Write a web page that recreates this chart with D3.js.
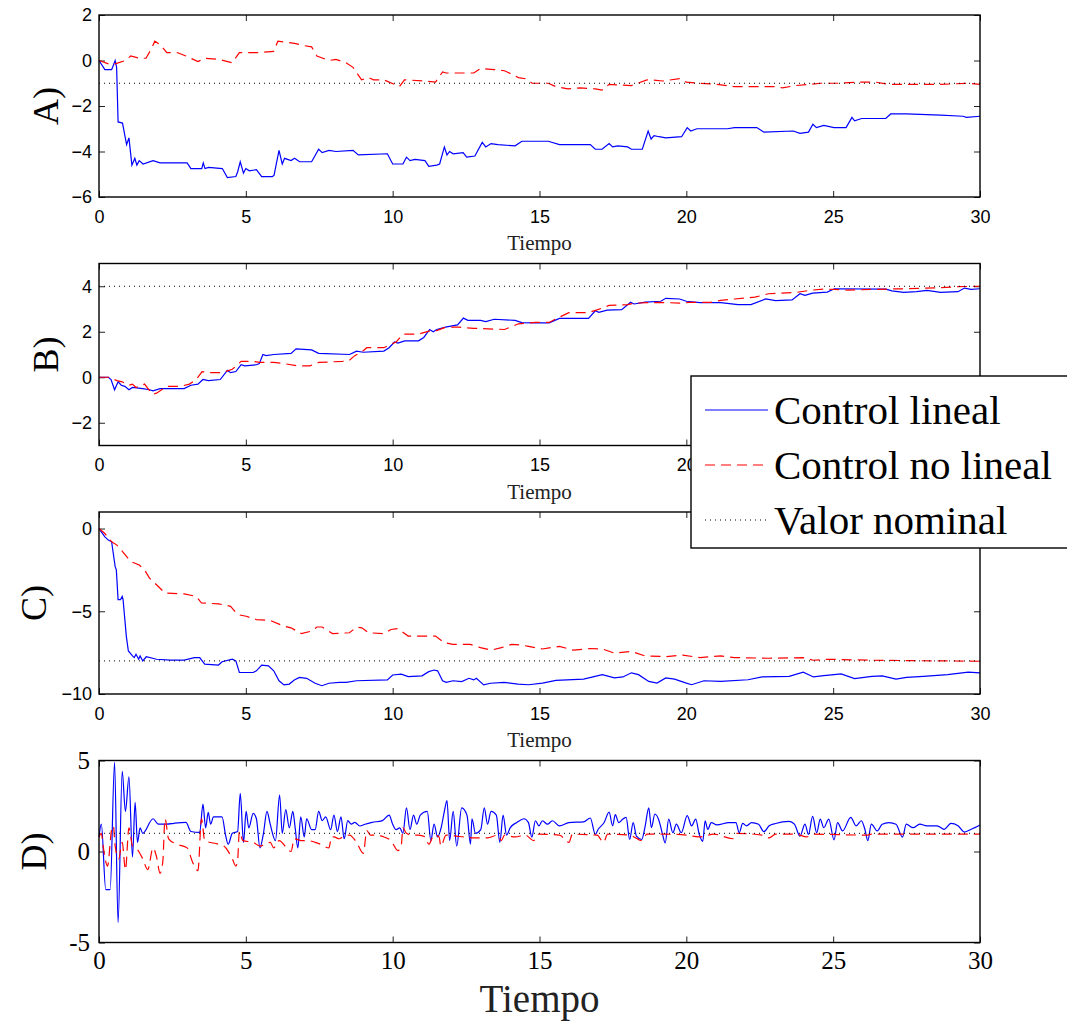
<!DOCTYPE html>
<html>
<head>
<meta charset="utf-8">
<script src="https://cdn.jsdelivr.net/npm/d3@7"></script>
<style>
  body { margin: 0; background: #fff; }
  svg { display: block; }
  .sans text { font-family: "Liberation Sans", Arial, sans-serif; font-size: 18px; fill: #000; }
  .serif text { font-family: "Liberation Serif", "Times New Roman", serif; font-size: 25px; fill: #000; }
</style>
</head>
<body>
<div class="chart"></div>
<script>
const WIDTH = 1067, HEIGHT = 1022;
const LEFT = 99, RIGHT = 980, PANEL_H = 182;

const xTicks = [0, 5, 10, 15, 20, 25, 30];
const legendLabels = ['Control lineal', 'Control no lineal', 'Valor nominal'];
const panelNames = ['A)', 'B)', 'C)', 'D)'];
const panelDomains = [[-6, 2], [-3, 5], [-10, 1], [-5, 5]];
const panelTicks = [[-6, -4, -2, 0, 2], [-2, 0, 2, 4], [-10, -5, 0], [-5, 0, 5]];
const nominal = [-1, 4, -8, 1];

// [t, value]
const aLineal = [[0,0],[0.2,-0.4],[0.43,-0.4],[0.55,0],[0.6,-0.3],[0.65,-2.7],[0.8,-2.75],[0.94,-3.7],[1.02,-3.4],[1.12,-4.6],[1.22,-4.3],[1.29,-4.6],[1.37,-4.4],[1.5,-4.55],[1.84,-4.4],[2.08,-4.5],[3.0,-4.5],[3.13,-4.75],[3.5,-4.75],[3.55,-4.5],[3.61,-4.75],[3.73,-4.7],[4.2,-4.75],[4.37,-5.15],[4.66,-5.1],[4.72,-4.9],[4.81,-4.45],[4.92,-4.95],[5.0,-4.75],[5.12,-4.85],[5.36,-4.8],[5.54,-5.1],[5.9,-5.1],[5.96,-5.05],[6.13,-3.95],[6.24,-4.55],[6.32,-4.3],[6.54,-4.4],[6.66,-4.3],[6.83,-4.45],[7.24,-4.45],[7.48,-3.9],[7.6,-4.05],[7.83,-3.95],[8.07,-4.0],[8.65,-3.95],[8.83,-4.15],[9.82,-4.1],[10.0,-4.55],[10.35,-4.55],[10.47,-4.25],[10.59,-4.4],[10.76,-4.35],[11.1,-4.4],[11.23,-4.65],[11.5,-4.6],[11.6,-4.55],[11.76,-3.8],[11.85,-4.15],[11.94,-4.0],[12.06,-4.1],[12.4,-4.05],[12.52,-4.25],[12.8,-4.2],[13.05,-3.6],[13.17,-3.8],[13.35,-3.65],[13.58,-3.7],[14.17,-3.75],[14.4,-3.55],[15.3,-3.55],[15.68,-3.7],[16.73,-3.7],[16.9,-3.9],[17.13,-3.9],[17.37,-3.65],[17.49,-3.8],[17.67,-3.75],[18.0,-3.8],[18.13,-3.9],[18.5,-3.9],[18.7,-3.1],[18.8,-3.45],[18.9,-3.3],[19.07,-3.35],[19.3,-3.4],[19.84,-3.35],[20.03,-2.95],[20.15,-3.1],[20.36,-3.0],[21.4,-3.0],[21.64,-2.95],[22.4,-2.95],[22.64,-3.15],[23.64,-3.1],[23.87,-3.2],[24.16,-3.15],[24.31,-2.8],[24.43,-2.95],[24.68,-2.85],[25.03,-2.95],[25.44,-2.95],[25.64,-2.5],[25.73,-2.65],[25.97,-2.55],[26.79,-2.55],[26.96,-2.35],[27.49,-2.35],[28.66,-2.4],[29.42,-2.45],[29.54,-2.5],[30,-2.45]];
const aNoLineal = [[0,0],[0.32,-0.15],[0.55,-0.15],[0.9,0],[1.08,0.2],[1.37,0.1],[1.6,0.1],[1.78,0.5],[1.9,0.85],[2.08,0.7],[2.31,0.35],[2.66,0.35],[2.96,0.2],[3.37,-0.05],[3.6,0.1],[4.07,0.05],[4.54,-0.1],[4.78,0.35],[5.48,0.35],[5.95,0.4],[6.09,0.85],[6.42,0.8],[6.66,0.75],[7.0,0.65],[7.24,0.6],[7.42,0.2],[7.83,0.0],[8.07,0.05],[8.41,-0.1],[8.65,-0.3],[8.94,-0.85],[9.18,-0.75],[9.35,-0.85],[9.7,-0.85],[10.06,-1.05],[10.23,-1.15],[10.4,-0.85],[11.1,-0.9],[11.46,-0.95],[11.7,-0.5],[11.82,-0.55],[12.76,-0.55],[12.99,-0.35],[13.46,-0.4],[13.81,-0.45],[14.28,-0.75],[14.52,-0.8],[14.75,-1.0],[15.3,-1.0],[15.56,-1.15],[15.97,-1.25],[16.38,-1.2],[16.9,-1.25],[17.13,-1.3],[17.37,-1.05],[18.13,-1.1],[18.66,-0.85],[18.83,-0.85],[19.19,-0.9],[19.77,-0.8],[20.0,-0.95],[20.47,-1.0],[21.05,-1.05],[21.64,-1.15],[23.04,-1.15],[23.27,-1.2],[23.75,-1.1],[24.57,-1.0],[25.15,-1.0],[25.85,-0.95],[26.44,-0.95],[26.9,-1.05],[28.66,-1.05],[29.6,-1.0],[30,-1.05]];

const bLineal = [[0,0],[0.32,0],[0.41,-0.1],[0.53,-0.55],[0.65,-0.2],[0.76,-0.35],[0.88,-0.4],[1.02,-0.55],[1.14,-0.45],[1.49,-0.5],[1.72,-0.55],[1.84,-0.6],[2.08,-0.5],[2.9,-0.5],[3.13,-0.35],[3.37,-0.3],[3.54,-0.1],[3.72,-0.15],[4.13,-0.1],[4.37,0.3],[4.48,0.2],[4.66,0.25],[4.84,0.55],[4.96,0.5],[5.36,0.55],[5.46,0.6],[5.58,1.0],[5.69,0.95],[5.95,1.0],[6.54,1.05],[6.71,1.25],[7.24,1.2],[7.48,1.05],[8.53,1.0],[8.77,1.15],[9.0,1.1],[9.7,1.15],[9.88,1.3],[10.06,1.55],[10.18,1.5],[10.41,1.6],[10.88,1.6],[11.06,1.75],[11.26,2.1],[11.38,2.0],[11.5,2.1],[11.8,2.2],[12.21,2.3],[12.41,2.6],[12.56,2.5],[12.99,2.5],[13.17,2.45],[13.46,2.55],[14.17,2.5],[14.4,2.4],[14.86,2.39],[15.33,2.39],[15.68,2.59],[16.67,2.59],[16.9,2.92],[17.02,2.85],[17.3,2.95],[17.8,2.97],[18.1,3.3],[18.22,3.22],[18.6,3.3],[19.13,3.34],[19.3,3.47],[19.77,3.44],[20.0,3.34],[20.47,3.28],[21.17,3.28],[21.76,3.19],[22.2,3.19],[22.7,3.44],[23.04,3.37],[23.6,3.4],[23.87,3.67],[24.04,3.6],[24.3,3.7],[24.8,3.74],[25.04,3.89],[26.79,3.87],[27.0,3.8],[27.4,3.73],[27.84,3.76],[28.2,3.82],[28.66,3.73],[29.25,3.76],[29.47,3.92],[29.7,3.86],[30,3.89]];
const bNoLineal = [[0,0],[0.32,0],[0.43,-0.05],[0.61,-0.15],[0.79,-0.2],[1.02,-0.35],[1.14,-0.3],[1.26,-0.45],[1.55,-0.3],[1.82,-0.75],[1.96,-0.7],[2.31,-0.4],[2.78,-0.4],[3.08,-0.3],[3.31,-0.1],[3.51,0.25],[3.72,0.2],[4.19,0.2],[4.54,0.35],[4.84,0.7],[5.25,0.7],[5.48,0.65],[5.95,0.65],[6.3,0.6],[6.77,0.5],[7.18,0.5],[7.48,0.65],[8.3,0.7],[8.53,0.75],[8.71,0.95],[8.94,1.1],[9.12,1.3],[9.7,1.3],[9.94,1.45],[10.12,1.55],[10.35,1.9],[10.88,1.9],[11.3,2.05],[11.5,2.05],[11.8,2.2],[12.29,2.2],[12.76,2.15],[13.81,2.1],[14.28,2.35],[14.86,2.41],[15.33,2.41],[15.6,2.59],[16.0,2.84],[16.67,2.84],[16.96,2.96],[17.37,3.16],[18.0,3.19],[18.25,3.26],[19.07,3.29],[19.77,3.26],[20.1,3.29],[20.82,3.29],[21.17,3.38],[21.64,3.44],[22.33,3.52],[22.8,3.67],[23.75,3.73],[24.2,3.82],[24.68,3.88],[25.5,3.83],[26.9,3.88],[27.49,3.89],[28.66,3.94],[29.25,3.98],[30,4.0]];

const cLineal = [[0,0],[0.2,-0.5],[0.32,-0.7],[0.43,-0.8],[0.55,-2.3],[0.59,-2.5],[0.65,-4.3],[0.73,-4.3],[0.79,-4.1],[0.82,-4.3],[0.93,-6.5],[1.0,-7.4],[1.14,-7.7],[1.2,-7.8],[1.26,-7.6],[1.35,-7.9],[1.4,-7.7],[1.49,-8.0],[1.61,-7.75],[1.96,-7.9],[2.43,-7.95],[2.9,-7.95],[3.25,-7.8],[3.43,-7.8],[3.6,-8.2],[4.07,-8.25],[4.19,-8.05],[4.54,-7.9],[4.66,-8.0],[4.78,-8.7],[5.25,-8.7],[5.36,-8.6],[5.54,-8.25],[5.77,-8.3],[5.95,-8.6],[6.13,-9.2],[6.3,-9.45],[6.48,-9.4],[6.65,-9.15],[6.83,-9.0],[7.07,-9.05],[7.36,-9.35],[7.59,-9.5],[7.83,-9.35],[8.18,-9.3],[8.41,-9.3],[8.77,-9.2],[9.82,-9.15],[10.0,-8.85],[10.29,-8.8],[10.53,-8.95],[11.0,-8.9],[11.23,-8.65],[11.41,-8.55],[11.53,-8.6],[11.7,-9.2],[11.82,-9.3],[12.06,-9.2],[12.35,-9.25],[12.6,-9.05],[12.76,-9.15],[12.85,-9.05],[13.1,-9.45],[13.33,-9.35],[13.8,-9.3],[14.27,-9.4],[14.63,-9.44],[15.1,-9.34],[15.56,-9.18],[16.5,-9.1],[17.14,-8.83],[17.55,-9.03],[17.84,-8.97],[18.13,-8.72],[18.37,-8.83],[18.72,-9.24],[19.0,-9.34],[19.3,-9.03],[19.6,-9.1],[20.0,-9.34],[20.18,-9.44],[20.6,-9.2],[21.17,-9.24],[22.1,-9.14],[22.58,-8.97],[23.5,-8.93],[23.98,-8.68],[24.33,-8.97],[24.68,-8.89],[25.03,-8.83],[25.27,-8.79],[25.73,-9.07],[26.32,-8.93],[26.67,-8.91],[27.14,-9.1],[27.5,-8.99],[28.07,-8.93],[28.9,-8.83],[29.6,-8.68],[30,-8.72]];
const cNoLineal = [[0,0],[0.2,-0.3],[0.43,-0.8],[0.61,-1.0],[0.9,-1.6],[1.08,-2.0],[1.37,-2.2],[1.55,-2.5],[1.72,-3.0],[2.02,-3.5],[2.25,-3.9],[2.9,-3.95],[3.31,-4.1],[3.49,-4.5],[4.07,-4.55],[4.48,-4.7],[4.72,-5.2],[5.01,-5.3],[5.36,-5.5],[5.83,-5.55],[6.3,-5.9],[6.54,-6.0],[6.89,-6.35],[7.24,-6.2],[7.42,-5.95],[7.6,-5.95],[7.95,-6.35],[8.53,-6.3],[8.77,-5.95],[8.95,-6.0],[9.18,-6.3],[9.7,-6.35],[9.94,-6.1],[10.18,-6.05],[10.53,-6.5],[11.11,-6.5],[11.46,-6.5],[11.76,-6.9],[12.05,-7.0],[12.64,-7.0],[12.99,-7.2],[13.35,-7.35],[13.7,-7.2],[14.05,-7.0],[14.4,-7.05],[14.63,-7.12],[15.1,-7.28],[15.68,-7.12],[16.15,-7.35],[16.73,-7.25],[17.14,-7.28],[17.55,-7.53],[18.13,-7.43],[18.6,-7.7],[19.3,-7.74],[19.88,-7.65],[20.47,-7.8],[21.17,-7.7],[21.64,-7.8],[22.8,-7.84],[23.98,-7.8],[24.33,-7.96],[24.8,-7.9],[26.32,-7.96],[28.66,-8.0],[30,-8.02]];

const dLineal = [[0,0.8],[0.08,1.5],[0.23,-2.1],[0.38,-2.1],[0.53,4.9],[0.65,-3.9],[0.79,4.4],[0.9,2.2],[1.02,4.1],[1.14,-0.3],[1.23,2.7],[1.31,0.5],[1.4,1.3],[1.49,1.0],[1.84,1.8],[2.02,1.5],[2.31,1.5],[2.55,1.55],[2.96,1.6],[3.13,1.1],[3.43,1.05],[3.54,2.6],[3.63,1.3],[3.72,2.15],[3.8,1.5],[3.9,1.9],[4.19,1.9],[4.31,0.9],[4.4,0.4],[4.54,1.0],[4.72,1.1],[4.81,3.2],[4.92,0.5],[5.01,2.2],[5.1,1.3],[5.25,2.1],[5.36,1.8],[5.48,0.2],[5.6,1.0],[5.72,2.2],[5.83,1.5],[6.01,0.6],[6.15,3.1],[6.24,1.0],[6.36,2.3],[6.48,1.3],[6.6,2.2],[6.68,1.3],[6.77,0.2],[6.87,1.9],[6.99,0.8],[7.07,1.8],[7.24,1.2],[7.36,1.2],[7.48,2.2],[7.6,1.7],[7.72,1.9],[7.89,1.2],[8.0,2.0],[8.12,1.1],[8.24,1.9],[8.35,0.7],[8.47,1.7],[8.59,1.5],[8.71,1.6],[8.88,1.4],[9.06,1.5],[9.3,1.6],[9.65,1.7],[9.88,2.0],[10.0,1.5],[10.12,1.2],[10.24,1.3],[10.35,1.0],[10.47,2.4],[10.59,1.2],[10.71,2.0],[10.82,1.5],[10.94,2.0],[11.18,2.2],[11.3,0.6],[11.41,1.5],[11.53,0.8],[11.65,1.3],[11.76,2.2],[11.85,2.8],[11.94,0.6],[12.06,2.2],[12.18,0.3],[12.35,2.4],[12.53,2.0],[12.65,0.4],[12.7,1.8],[12.82,1.0],[13.0,1.2],[13.12,2.4],[13.23,1.5],[13.35,2.2],[13.53,2.0],[13.65,0.5],[13.76,2.0],[13.88,0.9],[14.0,1.3],[14.23,1.6],[14.47,1.8],[14.62,1.6],[14.74,0.79],[14.86,1.69],[14.98,1.41],[15.1,1.69],[15.27,1.5],[15.44,1.69],[15.68,1.41],[16.0,1.59],[16.5,1.63],[16.73,1.84],[16.9,0.94],[17.0,1.22],[17.2,1.59],[17.37,2.16],[17.49,1.41],[17.58,2.03],[17.7,1.59],[17.84,1.78],[17.95,1.88],[18.07,0.66],[18.19,1.59],[18.3,0.84],[18.48,0.66],[18.6,1.41],[18.72,2.4],[18.81,1.31],[18.93,2.06],[19.07,1.69],[19.19,0.94],[19.28,0.47],[19.4,1.78],[19.54,1.03],[19.66,1.5],[19.83,1.03],[20.03,1.97],[20.18,1.41],[20.32,1.78],[20.44,0.94],[20.56,0.56],[20.64,1.69],[20.73,1.22],[20.85,1.59],[21.04,1.46],[21.45,1.59],[21.69,1.59],[21.8,1.03],[21.92,1.54],[22.05,1.41],[22.22,1.59],[22.46,1.5],[22.64,1.09],[22.82,1.41],[23.04,1.54],[23.5,1.65],[23.68,1.5],[23.87,0.84],[24.04,1.5],[24.16,0.94],[24.3,1.93],[24.44,1.03],[24.56,1.78],[24.68,1.31],[24.85,1.78],[25.03,0.64],[25.15,1.59],[25.32,1.13],[25.6,1.88],[25.78,1.41],[25.96,1.69],[26.08,1.22],[26.18,0.6],[26.3,1.5],[26.5,1.13],[26.67,1.5],[26.9,1.59],[27.14,1.5],[27.36,0.79],[27.49,1.5],[27.72,1.31],[27.95,1.5],[28.19,1.41],[28.54,1.41],[28.78,1.22],[29.01,1.54],[29.25,1.41],[29.47,1.07],[29.7,1.22],[30,1.46]];
const dNoLineal = [[0,0.8],[0.08,1.0],[0.14,0.3],[0.29,-0.8],[0.43,1.2],[0.49,1.4],[0.55,0.3],[0.67,-0.4],[0.79,0.5],[0.9,-1.0],[1.02,1.3],[1.14,0.3],[1.31,0.1],[1.49,-0.4],[1.66,-1.0],[1.84,0.2],[1.96,-0.3],[2.08,-1.2],[2.17,-0.6],[2.25,1.8],[2.37,0.7],[2.66,0.4],[3.0,0.2],[3.19,-0.6],[3.37,-1.05],[3.49,1.8],[3.6,0.6],[4.07,0.4],[4.25,0.3],[4.54,-0.4],[4.66,-0.8],[4.72,-0.5],[4.78,1.1],[4.9,0.6],[5.25,0.5],[5.48,0.3],[5.83,0.5],[5.95,0.2],[6.13,0.6],[6.54,0.0],[6.65,0.7],[6.89,0.6],[7.12,0.6],[7.36,0.5],[7.54,0.4],[7.83,0.2],[7.92,0.8],[8.0,0.8],[8.18,0.7],[8.3,0.8],[8.53,0.9],[8.77,0.5],[9.0,-0.1],[9.12,1.15],[9.24,0.9],[9.47,0.9],[9.7,0.8],[9.94,0.6],[10.18,0.05],[10.29,0.3],[10.35,1.3],[10.47,1.0],[10.65,0.9],[10.88,0.9],[11.11,0.8],[11.23,0.4],[11.41,0.9],[11.58,0.8],[11.64,0.3],[11.82,0.9],[12.17,0.85],[12.4,0.8],[12.76,0.75],[13.23,0.75],[13.58,0.9],[13.7,0.6],[13.81,0.9],[14.17,0.8],[14.52,0.9],[14.8,0.6],[14.98,0.95],[15.68,0.9],[16.0,0.5],[16.12,0.95],[16.96,0.9],[17.18,0.5],[17.32,0.95],[18.07,0.9],[18.48,0.6],[18.66,0.95],[19.3,0.95],[20.0,0.9],[20.42,0.8],[20.94,0.95],[21.58,0.7],[21.7,1.0],[22.58,0.9],[22.82,0.75],[23.04,0.95],[23.75,0.95],[24.1,0.8],[24.33,0.95],[26.18,0.9],[26.3,0.95],[27.5,0.95],[28.66,0.95],[29.7,0.95],[30,0.95]];

const lineal = [aLineal, bLineal, cLineal, dLineal];
const noLineal = [aNoLineal, bNoLineal, cNoLineal, dNoLineal];

const PANEL_TOP = [15, 263.5, 512, 760.5];
const LABEL_X = [58, 58, 46, 46];

const svg = d3.select('.chart').append('svg')
  .attr('width', WIDTH)
  .attr('height', HEIGHT);

const x = d3.scaleLinear().domain([0, 30]).range([LEFT, RIGHT]);

const STYLE = {
  lineal: { stroke: '#0000ff', dash: null },
  noLineal: { stroke: '#ff0000', dash: '10,6' },
  nominal: { stroke: '#000', dash: '1,4' }
};

panelNames.forEach((name, i) => {
  const top = PANEL_TOP[i], bottom = top + PANEL_H;
  const isLast = i === 3;
  const y = d3.scaleLinear().domain(panelDomains[i]).range([bottom, top]);
  const g = svg.append('g');
  // the last panel oscillates smoothly, so round its corners
  const line = d3.line()
    .x(d => x(d[0]))
    .y(d => y(d[1]))
    .curve(isLast ? d3.curveMonotoneX : d3.curveLinear);

  const fmt = isLast ? (d => String(d)) : d3.format('');

  // axes, ticks pointing inwards
  const axes = g.append('g').attr('class', isLast ? 'serif' : 'sans');
  axes.append('g')
    .attr('transform', `translate(0, ${bottom})`)
    .call(d3.axisBottom(x).tickValues(xTicks).tickSizeInner(-6).tickSizeOuter(0).tickPadding(isLast ? 9 : 13));
  axes.append('g')
    .attr('transform', `translate(0, ${top})`)
    .call(d3.axisTop(x).tickValues(xTicks).tickSizeInner(-6).tickSizeOuter(0).tickFormat(''));
  axes.append('g')
    .attr('transform', `translate(${LEFT}, 0)`)
    .call(d3.axisLeft(y).tickValues(panelTicks[i]).tickSizeInner(-6).tickSizeOuter(0).tickPadding(isLast ? 9 : 7).tickFormat(fmt));
  axes.append('g')
    .attr('transform', `translate(${RIGHT}, 0)`)
    .call(d3.axisRight(y).tickValues(panelTicks[i]).tickSizeInner(-6).tickSizeOuter(0).tickFormat(''));
  axes.selectAll('.domain').remove();
  axes.selectAll('.tick line').attr('stroke', '#222').attr('stroke-width', 1);
  axes.selectAll('text').attr('font-family', null).attr('font-size', null);

  g.append('path')
    .datum(lineal[i])
    .attr('d', line)
    .attr('fill', 'none')
    .attr('stroke', STYLE.lineal.stroke)
    .attr('stroke-width', 1.2);

  g.append('path')
    .datum(noLineal[i])
    .attr('d', line)
    .attr('fill', 'none')
    .attr('stroke', STYLE.noLineal.stroke)
    .attr('stroke-width', 1.2)
    .attr('stroke-dasharray', STYLE.noLineal.dash);

  g.append('line')
    .attr('x1', LEFT).attr('x2', RIGHT)
    .attr('y1', y(nominal[i])).attr('y2', y(nominal[i]))
    .attr('stroke', STYLE.nominal.stroke)
    .attr('stroke-width', 1)
    .attr('stroke-dasharray', STYLE.nominal.dash);

  g.append('rect')
    .attr('x', LEFT).attr('y', top)
    .attr('width', RIGHT - LEFT).attr('height', PANEL_H)
    .attr('fill', 'none')
    .attr('stroke', '#000')
    .attr('stroke-width', 1.4);

  g.append('text')
    .attr('transform', `translate(${LABEL_X[i]}, ${(top + bottom) / 2}) rotate(-90)`)
    .attr('text-anchor', 'middle')
    .style('font-family', '"Liberation Serif", serif')
    .style('font-size', '36px')
    .text(name);

  g.append('text')
    .attr('x', (LEFT + RIGHT) / 2)
    .attr('y', isLast ? bottom + 69 : bottom + 53)
    .attr('text-anchor', 'middle')
    .style('font-family', '"Liberation Serif", serif')
    .style('font-size', isLast ? '39px' : '21px')
    .style('fill', '#222')
    .text('Tiempo');
});

// legend
const legend = svg.append('g').attr('transform', 'translate(691, 376)');
legend.append('rect')
  .attr('width', 390).attr('height', 172)
  .attr('fill', '#fff')
  .attr('stroke', '#000')
  .attr('stroke-width', 1.4);

const legendStyles = [STYLE.lineal, STYLE.noLineal, STYLE.nominal];
legendLabels.forEach((label, i) => {
  const cy = 34 + i * 55;
  legend.append('line')
    .attr('x1', 14).attr('x2', 77)
    .attr('y1', cy).attr('y2', cy)
    .attr('stroke', legendStyles[i].stroke)
    .attr('stroke-width', i === 2 ? 1 : 1.2)
    .attr('stroke-dasharray', legendStyles[i].dash);
  legend.append('text')
    .attr('x', 83)
    .attr('y', cy + 14)
    .style('font-family', '"Liberation Serif", serif')
    .style('font-size', '41px')
    .text(label);
});
</script>
</body>
</html>
